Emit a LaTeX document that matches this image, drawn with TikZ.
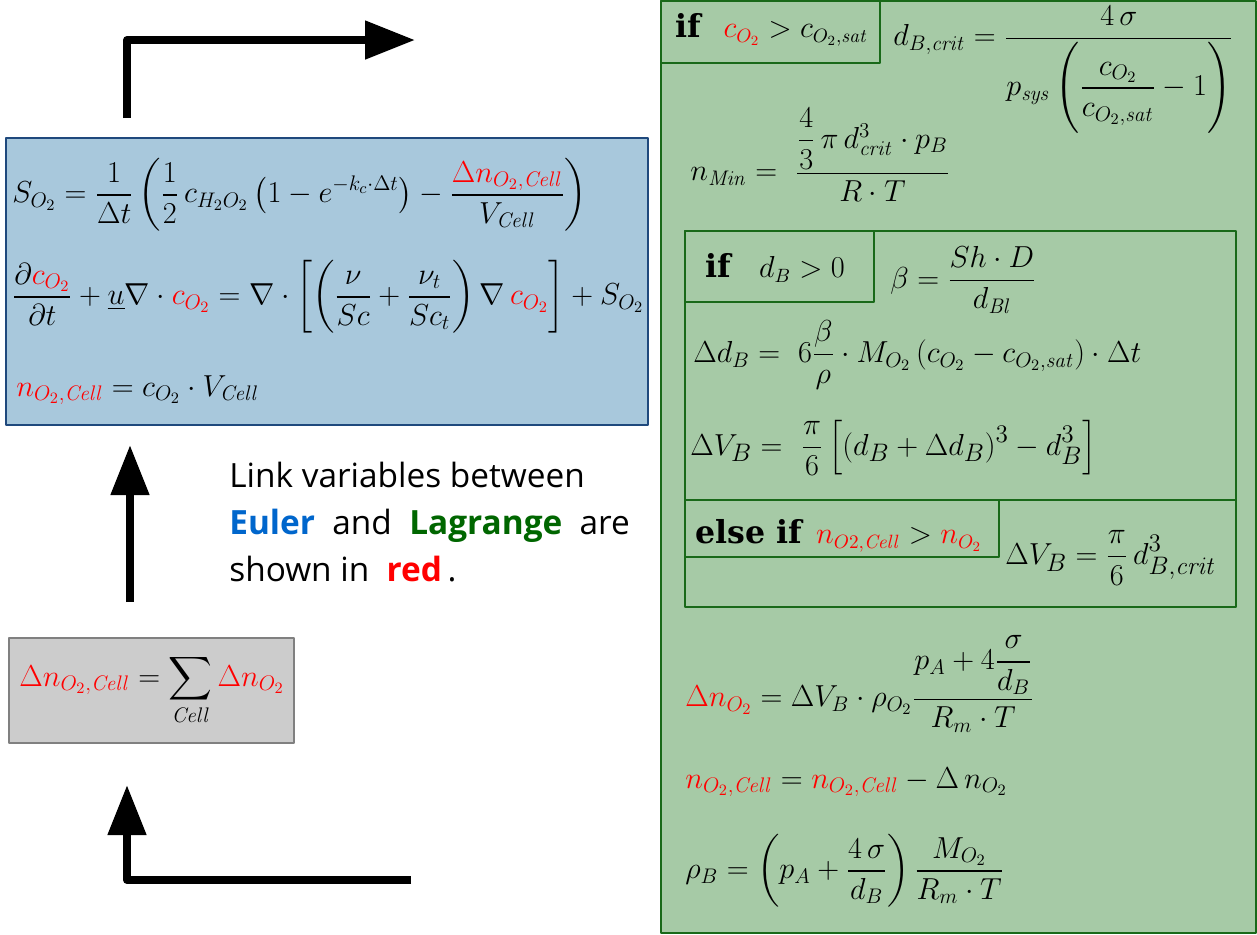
\documentclass[tikz,border=0pt]{standalone}
\usepackage{amsmath}
\usepackage[no-math]{fontspec}
\newfontfamily\opensans{Open Sans}
\newfontfamily\slabfont{DejaVu Serif}
\usetikzlibrary{arrows.meta}
\definecolor{eulerfill}{RGB}{168,200,220}
\definecolor{eulerdraw}{RGB}{31,73,125}
\definecolor{lagfill}{RGB}{166,202,166}
\definecolor{lagdraw}{RGB}{25,105,25}
\definecolor{eulertxt}{RGB}{0,102,204}
\definecolor{lagtxt}{RGB}{0,102,0}
\definecolor{linkred}{RGB}{255,0,0}
\newcommand{\lk}[1]{\textcolor{linkred}{#1}}
\newcommand{\sub}[1]{\mathit{#1}}

\begin{document}
\begin{tikzpicture}[x=0.02cm,y=-0.02cm,line join=round,
  eq/.style={anchor=west,inner sep=0pt,font=\fontsize{18}{22}\selectfont},
  cond/.style={anchor=west,inner sep=0pt,font=\fontsize{16}{20}\selectfont},
  flow/.style={line width=0.16cm,-{Triangle[length=1cm,width=0.74cm]}},
  boxline/.style={draw=lagdraw,line width=1.1pt}]
\useasboundingbox (0,0) rectangle (1257,934);
\filldraw[fill=eulerfill,draw=eulerdraw,line width=1.1pt] (6,138) rectangle (648,425);
\filldraw[fill=black!20,draw=black!50,line width=1.1pt] (9,638) rectangle (294,743);
\filldraw[fill=lagfill,draw=lagdraw,line width=1.1pt] (661,1) rectangle (1256,933);
\draw[boxline] (661,1) rectangle (880,63);
\draw[boxline] (685,231) rectangle (1236,607);
\draw[boxline] (685,231) rectangle (874,302);
\draw[boxline] (685,500) -- (1236,500);
\draw[boxline] (685,500) rectangle (999,557);

\node[eq] (sourceO) at (12,195) {$\displaystyle S_{O_2}=\frac{1}{\Delta t}\left(\frac{1}{2}\,c_{H_2O_2}\left(1-e^{-k_c\cdot\Delta t}\right)-\frac{\lk{\Delta n_{O_2,\sub{Cell}}}}{V_{\sub{Cell}}}\right)$};
\node[eq] (transport) at (12,297) {$\displaystyle \frac{\partial\lk{c_{O_2}}}{\partial t}+\underline{u}\nabla\cdot\lk{c_{O_2}}=\nabla\cdot\left[\left(\frac{\nu}{Sc}+\frac{\nu_t}{Sc_t}\right)\nabla\,\lk{c_{O_2}}\right]+S_{O_2}$};
\node[eq] (ncellE) at (16,390) {$\lk{n_{O_2,\sub{Cell}}}=c_{O_2}\cdot V_{\sub{Cell}}$};
\node[eq,anchor=center] (sumcell) at (152,690) {$\displaystyle \lk{\Delta n_{O_2,\sub{Cell}}}=\sum_{\sub{Cell}}\lk{\Delta n_{O_2}}$};

\node[anchor=west,align=left,inner sep=0pt,font=\opensans\fontsize{19}{26.6}\selectfont] (legend) at (229,522)
  {Link variables between\\ \textcolor{eulertxt}{\bfseries Euler}\ \ and\ \ \textcolor{lagtxt}{\bfseries Lagrange}\ \ are\\ shown in\ \ \textcolor{linkred}{\bfseries red}\,.};

\node[cond] (ifsat) at (675,30) {{\fontsize{18}{20}\slabfont\bfseries if}\enspace\ $\lk{c_{O_2}}>c_{O_2,\sub{sat}}$};
\node[eq] (dcrit) at (893,70) {$\displaystyle d_{B,\sub{crit}}=\frac{4\,\sigma}{p_{\sub{sys}}\left(\dfrac{c_{O_2}}{c_{O_2,\sub{sat}}}-1\rule[-22pt]{0pt}{50pt}\right)}$};
\node[eq] (nmin) at (690,155) {$\displaystyle n_{\sub{Min}}=\ \frac{\dfrac{4}{3}\,\pi\,d_{\sub{crit}}^{3}\cdot p_B}{R\cdot T}$};
\node[cond] (ifdb) at (705,268) {{\fontsize{18}{20}\slabfont\bfseries if}\quad $d_B>0$};
\node[eq] (beta) at (890,280) {$\displaystyle \beta=\frac{Sh\cdot D}{d_{\sub{Bl}}}$};
\node[eq] (ddb) at (693,355) {$\displaystyle \Delta d_B=\ 6\frac{\beta}{\rho}\cdot M_{O_2}\left(c_{O_2}-c_{O_2,\sub{sat}}\right)\cdot\Delta t$};
\node[eq,font=\fontsize{19}{22}\selectfont] (dvb) at (690,448) {$\displaystyle \Delta V_B=\ \frac{\pi}{6}\left[\left(d_B+\Delta d_B\right)^3-d_B^3\right]$};
\node[cond] (elseif) at (695,536) {{\fontsize{18}{20}\slabfont\bfseries else if}\enspace $\lk{n_{O2,\sub{Cell}}}>\lk{n_{O_2}}$};
\node[eq,font=\fontsize{19}{24}\selectfont] (dvcrit) at (1005,558) {$\displaystyle \Delta V_B=\frac{\pi}{6}\,d_{B,\sub{crit}}^3$};
\node[eq] (dno) at (685,684) {$\displaystyle \lk{\Delta n_{O_2}}=\Delta V_B\cdot\rho_{O_2}\frac{p_A+4\dfrac{\sigma}{d_B}}{R_m\cdot T}$};
\node[eq] (ncellL) at (685,782) {$\lk{n_{O_2,\sub{Cell}}}=\lk{n_{O_2,\sub{Cell}}}-\Delta\,n_{O_2}$};
\node[eq] (rhob) at (685,871) {$\displaystyle \rho_B=\left(p_A+\frac{4\,\sigma}{d_B}\right)\frac{M_{O_2}}{R_m\cdot T}$};

\coordinate (topstart) at (127,118);
\coordinate (topbend) at (127,40);
\coordinate (topend) at (415,40);
\coordinate (midstart) at (130,602);
\coordinate (midend) at (130,445);
\coordinate (lowstart) at (411,880);
\coordinate (lowbend) at (127,880);
\coordinate (lowend) at (127,785);
\draw[flow] (topstart) -- (topbend) -- (topend);
\draw[flow] (midstart) -- (midend);
\draw[flow] (lowstart) -- (lowbend) -- (lowend);
\end{tikzpicture}
\end{document}
